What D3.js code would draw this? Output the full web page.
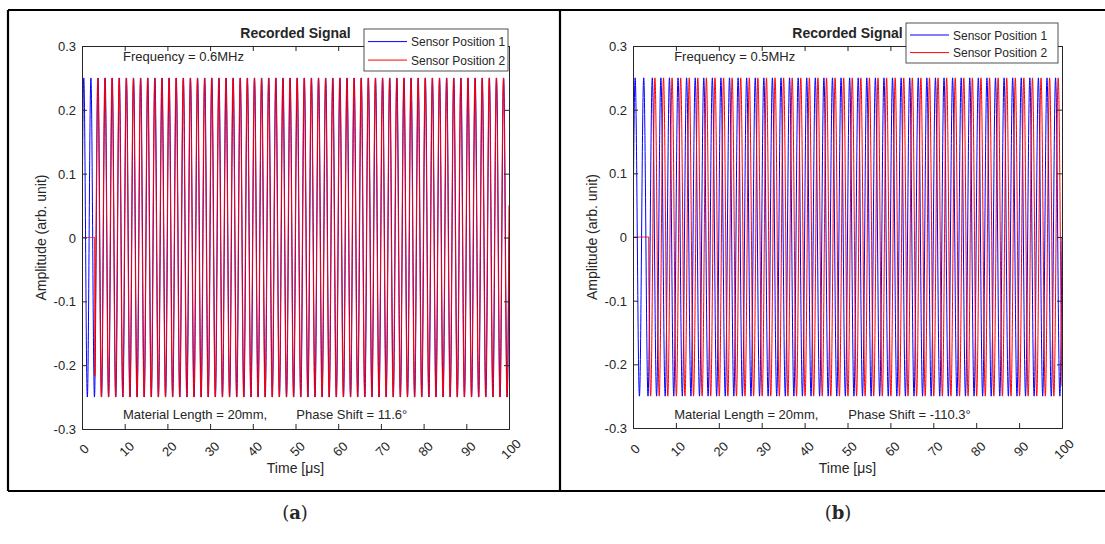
<!DOCTYPE html>
<html>
<head>
<meta charset="utf-8">
<script src="https://cdn.jsdelivr.net/npm/d3@7"></script>
<style>
  body { margin: 0; background: #fff; }
  text { font-family: "Liberation Sans", Arial, sans-serif; fill: #262626; }
</style>
</head>
<body>
<div id="chart"></div>
<script>
// values
var panelLetters = ["a", "b"];
var frequencyMHz = [0.6, 0.5];
var phaseShiftDeg = [11.6, -110.3];
var materialLengthMm = [20, 20];
var signalAmplitude = [0.25, 0.25];
var sensor1OnsetUs = [0, 0];
var sensor2OnsetUs = [3.0, 3.7];
var seriesNames = ["Sensor Position 1", "Sensor Position 2"];
var seriesColors = ["#0000ff", "#ff0000"];
var xTicks = [0, 10, 20, 30, 40, 50, 60, 70, 80, 90, 100];
var yTicks = [-0.3, -0.2, -0.1, 0, 0.1, 0.2, 0.3];
var yTickLabels = ["-0.3", "-0.2", "-0.1", "0", "0.1", "0.2", "0.3"];

// layout of the two panels (pixels)
var layout = [
  { left: 82, right: 509, top: 46, bottom: 429, legend: { x: 364, y: 29, w: 144, h: 42 }, letterX: 295 },
  { left: 633, right: 1062, top: 46, bottom: 428, legend: { x: 906, y: 23, w: 152, h: 40 }, letterX: 838 }
];

var svg = d3.select("#chart")
  .append("svg")
  .attr("width", 1105)
  .attr("height", 544);

// outer frame of the figure table
svg.append("path")
  .attr("d", "M8,10 H1110 M8,491 H1110 M8,10 V491 M560,10 V491")
  .attr("fill", "none")
  .attr("stroke", "#000")
  .attr("stroke-width", 2.2);

var dt = 0.02; // microseconds per sample

panelLetters.forEach(function(letter, i) {
  var L = layout[i];
  var x = d3.scaleLinear().domain([0, 100]).range([L.left, L.right]);
  var y = d3.scaleLinear().domain([-0.3, 0.3]).range([L.bottom, L.top]);

  var g = svg.append("g");

  g.append("rect")
    .attr("x", L.left).attr("y", L.top)
    .attr("width", L.right - L.left).attr("height", L.bottom - L.top)
    .attr("fill", "#fff");

  var clipId = "clip" + letter;
  g.append("clipPath").attr("id", clipId)
    .append("rect")
    .attr("x", L.left).attr("y", L.top - 2)
    .attr("width", L.right - L.left).attr("height", L.bottom - L.top + 4);

  // sampled signals
  var times = d3.range(0, 100 + dt / 2, dt);
  var onsets = [sensor1OnsetUs[i], sensor2OnsetUs[i]];
  var phases = [0, phaseShiftDeg[i] * Math.PI / 180];
  var signals = onsets.map(function(t0, k) {
    return times.map(function(t) {
      var v = t < t0 ? 0 : signalAmplitude[i] * Math.sin(2 * Math.PI * frequencyMHz[i] * t + phases[k]);
      return [t, v];
    });
  });

  var line = d3.line()
    .x(function(d) { return x(d[0]); })
    .y(function(d) { return y(d[1]); });

  g.append("g")
    .attr("clip-path", "url(#" + clipId + ")")
    .selectAll("path")
    .data(signals)
    .enter()
    .append("path")
      .attr("d", line)
      .attr("fill", "none")
      .attr("stroke", function(d, k) { return seriesColors[k]; })
      .attr("stroke-width", 1);

  // axes: MATLAB style box with inward ticks on all sides
  var axisColor = "#262626";
  var bottomAxis = g.append("g")
    .attr("transform", "translate(0," + L.bottom + ")")
    .call(d3.axisBottom(x).tickValues(xTicks).tickSize(-5).tickFormat(""));
  var topAxis = g.append("g")
    .attr("transform", "translate(0," + L.top + ")")
    .call(d3.axisTop(x).tickValues(xTicks).tickSize(-5).tickFormat(""));
  var leftAxis = g.append("g")
    .attr("transform", "translate(" + L.left + ",0)")
    .call(d3.axisLeft(y).tickValues(yTicks).tickSize(-5).tickFormat(""));
  var rightAxis = g.append("g")
    .attr("transform", "translate(" + L.right + ",0)")
    .call(d3.axisRight(y).tickValues(yTicks).tickSize(-5).tickFormat(""));
  [bottomAxis, topAxis, leftAxis, rightAxis].forEach(function(a) {
    a.selectAll("path, line").attr("stroke", axisColor).attr("stroke-width", 1);
  });

  // y tick labels
  g.selectAll(".ylab")
    .data(yTicks)
    .enter()
    .append("text")
      .attr("x", L.left - 6)
      .attr("y", function(d) { return y(d) + 5; })
      .attr("text-anchor", "end")
      .style("font-size", "13px")
      .text(function(d, k) { return yTickLabels[k]; });

  // rotated x tick labels
  g.selectAll(".xlab")
    .data(xTicks)
    .enter()
    .append("text")
      .attr("transform", function(d) { return "translate(" + (x(d) + 2) + ",449) rotate(-45)"; })
      .attr("text-anchor", "middle")
      .attr("dy", "0.35em")
      .style("font-size", "13px")
      .text(function(d) { return d; });

  // axis titles
  g.append("text")
    .attr("x", (L.left + L.right) / 2)
    .attr("y", 473)
    .attr("text-anchor", "middle")
    .style("font-size", "14px")
    .text("Time [\u03bcs]");

  g.append("text")
    .attr("transform", "translate(" + (L.left - 36) + "," + ((L.top + L.bottom) / 2) + ") rotate(-90)")
    .attr("text-anchor", "middle")
    .style("font-size", "14px")
    .text("Amplitude (arb. unit)");

  g.append("text")
    .attr("x", (L.left + L.right) / 2)
    .attr("y", 38)
    .attr("text-anchor", "middle")
    .style("font-size", "14px")
    .style("font-weight", "bold")
    .attr("fill", "#000")
    .text("Recorded Signal");

  // annotations
  g.append("text")
    .attr("x", x(9.6))
    .attr("y", 61)
    .style("font-size", "13px")
    .text("Frequency = " + frequencyMHz[i] + "MHz");

  g.append("text")
    .attr("x", x(9.6))
    .attr("y", 419)
    .style("font-size", "13px")
    .text("Material Length = " + materialLengthMm[i] + "mm,");

  g.append("text")
    .attr("x", x(50.2))
    .attr("y", 419)
    .style("font-size", "13px")
    .text("Phase Shift = " + phaseShiftDeg[i] + "\u00b0");

  // legend
  var lg = g.append("g").attr("transform", "translate(" + L.legend.x + "," + L.legend.y + ")");
  lg.append("rect")
    .attr("width", L.legend.w).attr("height", L.legend.h)
    .attr("fill", "#fff")
    .attr("stroke", axisColor)
    .attr("stroke-width", 0.8);
  seriesNames.forEach(function(name, k) {
    var yy = L.legend.h * (k === 0 ? 0.3 : 0.74);
    lg.append("line")
      .attr("x1", 4).attr("x2", 43)
      .attr("y1", yy).attr("y2", yy)
      .attr("stroke", seriesColors[k])
      .attr("stroke-width", 1);
    lg.append("text")
      .attr("x", 47)
      .attr("y", yy + 4.5)
      .style("font-size", "12px")
      .text(name);
  });

  // panel letter
  var lt = svg.append("text")
    .attr("x", L.letterX)
    .attr("y", 519)
    .attr("text-anchor", "middle")
    .style("font-family", "'DejaVu Serif', 'Liberation Serif', serif")
    .style("font-size", "18px")
    .attr("fill", "#000");
  lt.append("tspan").text("(");
  lt.append("tspan").style("font-weight", "bold").text(letter);
  lt.append("tspan").text(")");
});
</script>
</body>
</html>
